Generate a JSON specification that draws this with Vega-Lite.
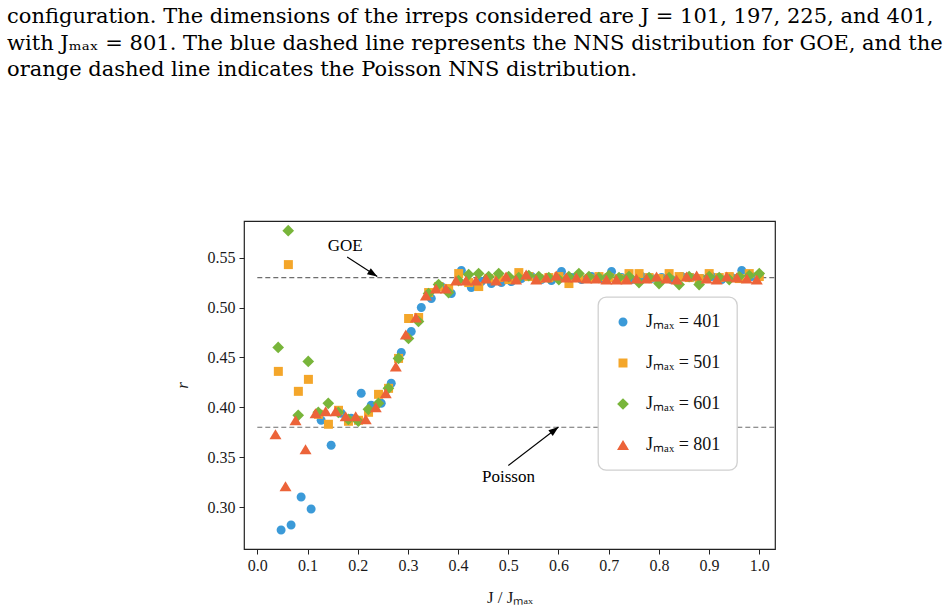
{
  "$schema": "https://vega.github.io/schema/vega-lite/v6.json",
  "width": 531,
  "height": 328,
  "autosize": "none",
  "padding": {"left": 244, "top": 221, "right": 177, "bottom": 64},
  "background": "white",
  "title": {
    "text": [
      "configuration.  The dimensions of the irreps considered are J = 101, 197, 225, and 401,",
      "with Jₘₐₓ = 801. The blue dashed line represents the NNS distribution for GOE, and the",
      "orange dashed line indicates the Poisson NNS distribution."
    ],
    "anchor": "start",
    "frame": "group",
    "orient": "top",
    "font": "DejaVu Serif",
    "fontSize": 21,
    "fontWeight": "normal",
    "color": "#000000",
    "lineHeight": 26.5,
    "dx": -237,
    "offset": 141
  },
  "datasets": {
    "points": [
      {"jmax": "401", "x": 0.0474, "r": 0.277},
      {"jmax": "401", "x": 0.0673, "r": 0.282},
      {"jmax": "401", "x": 0.0873, "r": 0.310},
      {"jmax": "401", "x": 0.1072, "r": 0.298},
      {"jmax": "401", "x": 0.1272, "r": 0.387},
      {"jmax": "401", "x": 0.1471, "r": 0.362},
      {"jmax": "401", "x": 0.1671, "r": 0.394},
      {"jmax": "401", "x": 0.1870, "r": 0.389},
      {"jmax": "401", "x": 0.2070, "r": 0.414},
      {"jmax": "401", "x": 0.2269, "r": 0.402},
      {"jmax": "401", "x": 0.2469, "r": 0.404},
      {"jmax": "401", "x": 0.2668, "r": 0.424},
      {"jmax": "401", "x": 0.2868, "r": 0.455},
      {"jmax": "401", "x": 0.3067, "r": 0.476},
      {"jmax": "401", "x": 0.3267, "r": 0.500},
      {"jmax": "401", "x": 0.3466, "r": 0.509},
      {"jmax": "401", "x": 0.3666, "r": 0.521},
      {"jmax": "401", "x": 0.3865, "r": 0.514},
      {"jmax": "401", "x": 0.4065, "r": 0.537},
      {"jmax": "401", "x": 0.4264, "r": 0.520},
      {"jmax": "401", "x": 0.4464, "r": 0.526},
      {"jmax": "401", "x": 0.4663, "r": 0.524},
      {"jmax": "401", "x": 0.4863, "r": 0.525},
      {"jmax": "401", "x": 0.5062, "r": 0.526},
      {"jmax": "401", "x": 0.5262, "r": 0.529},
      {"jmax": "401", "x": 0.5461, "r": 0.531},
      {"jmax": "401", "x": 0.5661, "r": 0.528},
      {"jmax": "401", "x": 0.5860, "r": 0.527},
      {"jmax": "401", "x": 0.6060, "r": 0.536},
      {"jmax": "401", "x": 0.6259, "r": 0.530},
      {"jmax": "401", "x": 0.6459, "r": 0.528},
      {"jmax": "401", "x": 0.6658, "r": 0.531},
      {"jmax": "401", "x": 0.6858, "r": 0.529},
      {"jmax": "401", "x": 0.7057, "r": 0.536},
      {"jmax": "401", "x": 0.7257, "r": 0.530},
      {"jmax": "401", "x": 0.7456, "r": 0.528},
      {"jmax": "401", "x": 0.7656, "r": 0.531},
      {"jmax": "401", "x": 0.7855, "r": 0.529},
      {"jmax": "401", "x": 0.8055, "r": 0.530},
      {"jmax": "401", "x": 0.8254, "r": 0.528},
      {"jmax": "401", "x": 0.8454, "r": 0.531},
      {"jmax": "401", "x": 0.8653, "r": 0.530},
      {"jmax": "401", "x": 0.8853, "r": 0.529},
      {"jmax": "401", "x": 0.9052, "r": 0.531},
      {"jmax": "401", "x": 0.9252, "r": 0.528},
      {"jmax": "401", "x": 0.9451, "r": 0.530},
      {"jmax": "401", "x": 0.9651, "r": 0.537},
      {"jmax": "401", "x": 0.9850, "r": 0.531},

      {"jmax": "501", "x": 0.0419, "r": 0.436},
      {"jmax": "501", "x": 0.0619, "r": 0.543},
      {"jmax": "501", "x": 0.0818, "r": 0.416},
      {"jmax": "501", "x": 0.1018, "r": 0.428},
      {"jmax": "501", "x": 0.1218, "r": 0.393},
      {"jmax": "501", "x": 0.1417, "r": 0.383},
      {"jmax": "501", "x": 0.1617, "r": 0.397},
      {"jmax": "501", "x": 0.1816, "r": 0.386},
      {"jmax": "501", "x": 0.2016, "r": 0.387},
      {"jmax": "501", "x": 0.2216, "r": 0.395},
      {"jmax": "501", "x": 0.2415, "r": 0.413},
      {"jmax": "501", "x": 0.2615, "r": 0.419},
      {"jmax": "501", "x": 0.2814, "r": 0.449},
      {"jmax": "501", "x": 0.3014, "r": 0.489},
      {"jmax": "501", "x": 0.3214, "r": 0.490},
      {"jmax": "501", "x": 0.3413, "r": 0.515},
      {"jmax": "501", "x": 0.3613, "r": 0.521},
      {"jmax": "501", "x": 0.3812, "r": 0.519},
      {"jmax": "501", "x": 0.4012, "r": 0.534},
      {"jmax": "501", "x": 0.4212, "r": 0.525},
      {"jmax": "501", "x": 0.4411, "r": 0.521},
      {"jmax": "501", "x": 0.4611, "r": 0.529},
      {"jmax": "501", "x": 0.4810, "r": 0.530},
      {"jmax": "501", "x": 0.5010, "r": 0.528},
      {"jmax": "501", "x": 0.5210, "r": 0.535},
      {"jmax": "501", "x": 0.5409, "r": 0.531},
      {"jmax": "501", "x": 0.5609, "r": 0.529},
      {"jmax": "501", "x": 0.5808, "r": 0.530},
      {"jmax": "501", "x": 0.6008, "r": 0.531},
      {"jmax": "501", "x": 0.6208, "r": 0.524},
      {"jmax": "501", "x": 0.6407, "r": 0.530},
      {"jmax": "501", "x": 0.6607, "r": 0.529},
      {"jmax": "501", "x": 0.6806, "r": 0.531},
      {"jmax": "501", "x": 0.7006, "r": 0.530},
      {"jmax": "501", "x": 0.7206, "r": 0.529},
      {"jmax": "501", "x": 0.7405, "r": 0.534},
      {"jmax": "501", "x": 0.7605, "r": 0.534},
      {"jmax": "501", "x": 0.7804, "r": 0.530},
      {"jmax": "501", "x": 0.8004, "r": 0.529},
      {"jmax": "501", "x": 0.8204, "r": 0.534},
      {"jmax": "501", "x": 0.8403, "r": 0.531},
      {"jmax": "501", "x": 0.8603, "r": 0.530},
      {"jmax": "501", "x": 0.8802, "r": 0.529},
      {"jmax": "501", "x": 0.9002, "r": 0.534},
      {"jmax": "501", "x": 0.9202, "r": 0.530},
      {"jmax": "501", "x": 0.9401, "r": 0.531},
      {"jmax": "501", "x": 0.9601, "r": 0.529},
      {"jmax": "501", "x": 0.9800, "r": 0.534},
      {"jmax": "501", "x": 1.0000, "r": 0.531},

      {"jmax": "601", "x": 0.0416, "r": 0.460},
      {"jmax": "601", "x": 0.0616, "r": 0.577},
      {"jmax": "601", "x": 0.0815, "r": 0.392},
      {"jmax": "601", "x": 0.1015, "r": 0.446},
      {"jmax": "601", "x": 0.1215, "r": 0.395},
      {"jmax": "601", "x": 0.1414, "r": 0.404},
      {"jmax": "601", "x": 0.1614, "r": 0.395},
      {"jmax": "601", "x": 0.1814, "r": 0.388},
      {"jmax": "601", "x": 0.2013, "r": 0.386},
      {"jmax": "601", "x": 0.2213, "r": 0.398},
      {"jmax": "601", "x": 0.2413, "r": 0.404},
      {"jmax": "601", "x": 0.2612, "r": 0.419},
      {"jmax": "601", "x": 0.2812, "r": 0.449},
      {"jmax": "601", "x": 0.3012, "r": 0.469},
      {"jmax": "601", "x": 0.3211, "r": 0.486},
      {"jmax": "601", "x": 0.3411, "r": 0.514},
      {"jmax": "601", "x": 0.3611, "r": 0.523},
      {"jmax": "601", "x": 0.3810, "r": 0.515},
      {"jmax": "601", "x": 0.4010, "r": 0.527},
      {"jmax": "601", "x": 0.4210, "r": 0.533},
      {"jmax": "601", "x": 0.4409, "r": 0.534},
      {"jmax": "601", "x": 0.4609, "r": 0.531},
      {"jmax": "601", "x": 0.4809, "r": 0.534},
      {"jmax": "601", "x": 0.5008, "r": 0.531},
      {"jmax": "601", "x": 0.5208, "r": 0.530},
      {"jmax": "601", "x": 0.5408, "r": 0.532},
      {"jmax": "601", "x": 0.5607, "r": 0.531},
      {"jmax": "601", "x": 0.5807, "r": 0.530},
      {"jmax": "601", "x": 0.6007, "r": 0.528},
      {"jmax": "601", "x": 0.6206, "r": 0.531},
      {"jmax": "601", "x": 0.6406, "r": 0.534},
      {"jmax": "601", "x": 0.6606, "r": 0.531},
      {"jmax": "601", "x": 0.6805, "r": 0.530},
      {"jmax": "601", "x": 0.7005, "r": 0.532},
      {"jmax": "601", "x": 0.7205, "r": 0.530},
      {"jmax": "601", "x": 0.7404, "r": 0.531},
      {"jmax": "601", "x": 0.7604, "r": 0.525},
      {"jmax": "601", "x": 0.7804, "r": 0.530},
      {"jmax": "601", "x": 0.8003, "r": 0.524},
      {"jmax": "601", "x": 0.8203, "r": 0.530},
      {"jmax": "601", "x": 0.8403, "r": 0.523},
      {"jmax": "601", "x": 0.8602, "r": 0.531},
      {"jmax": "601", "x": 0.8802, "r": 0.523},
      {"jmax": "601", "x": 0.9002, "r": 0.531},
      {"jmax": "601", "x": 0.9201, "r": 0.530},
      {"jmax": "601", "x": 0.9401, "r": 0.528},
      {"jmax": "601", "x": 0.9601, "r": 0.531},
      {"jmax": "601", "x": 0.9800, "r": 0.532},
      {"jmax": "601", "x": 1.0000, "r": 0.534},

      {"jmax": "801", "x": 0.0362, "r": 0.373},
      {"jmax": "801", "x": 0.0562, "r": 0.321},
      {"jmax": "801", "x": 0.0762, "r": 0.387},
      {"jmax": "801", "x": 0.0961, "r": 0.358},
      {"jmax": "801", "x": 0.1161, "r": 0.394},
      {"jmax": "801", "x": 0.1361, "r": 0.396},
      {"jmax": "801", "x": 0.1561, "r": 0.396},
      {"jmax": "801", "x": 0.1760, "r": 0.391},
      {"jmax": "801", "x": 0.1960, "r": 0.391},
      {"jmax": "801", "x": 0.2160, "r": 0.388},
      {"jmax": "801", "x": 0.2360, "r": 0.400},
      {"jmax": "801", "x": 0.2559, "r": 0.414},
      {"jmax": "801", "x": 0.2759, "r": 0.441},
      {"jmax": "801", "x": 0.2959, "r": 0.473},
      {"jmax": "801", "x": 0.3159, "r": 0.490},
      {"jmax": "801", "x": 0.3358, "r": 0.512},
      {"jmax": "801", "x": 0.3558, "r": 0.519},
      {"jmax": "801", "x": 0.3758, "r": 0.519},
      {"jmax": "801", "x": 0.3958, "r": 0.527},
      {"jmax": "801", "x": 0.4157, "r": 0.527},
      {"jmax": "801", "x": 0.4357, "r": 0.527},
      {"jmax": "801", "x": 0.4557, "r": 0.529},
      {"jmax": "801", "x": 0.4757, "r": 0.527},
      {"jmax": "801", "x": 0.4956, "r": 0.531},
      {"jmax": "801", "x": 0.5156, "r": 0.528},
      {"jmax": "801", "x": 0.5356, "r": 0.533},
      {"jmax": "801", "x": 0.5556, "r": 0.528},
      {"jmax": "801", "x": 0.5755, "r": 0.530},
      {"jmax": "801", "x": 0.5955, "r": 0.532},
      {"jmax": "801", "x": 0.6155, "r": 0.530},
      {"jmax": "801", "x": 0.6355, "r": 0.530},
      {"jmax": "801", "x": 0.6554, "r": 0.529},
      {"jmax": "801", "x": 0.6754, "r": 0.529},
      {"jmax": "801", "x": 0.6954, "r": 0.528},
      {"jmax": "801", "x": 0.7154, "r": 0.528},
      {"jmax": "801", "x": 0.7353, "r": 0.528},
      {"jmax": "801", "x": 0.7553, "r": 0.529},
      {"jmax": "801", "x": 0.7753, "r": 0.529},
      {"jmax": "801", "x": 0.7953, "r": 0.531},
      {"jmax": "801", "x": 0.8152, "r": 0.529},
      {"jmax": "801", "x": 0.8352, "r": 0.528},
      {"jmax": "801", "x": 0.8552, "r": 0.531},
      {"jmax": "801", "x": 0.8752, "r": 0.532},
      {"jmax": "801", "x": 0.8951, "r": 0.529},
      {"jmax": "801", "x": 0.9151, "r": 0.528},
      {"jmax": "801", "x": 0.9351, "r": 0.531},
      {"jmax": "801", "x": 0.9551, "r": 0.530},
      {"jmax": "801", "x": 0.9750, "r": 0.529},
      {"jmax": "801", "x": 0.9950, "r": 0.528}
    ],
    "refs": [
      {"ref": "GOE", "r": 0.530},
      {"ref": "Poisson", "r": 0.380}
    ],
    "notes": [
      {"label": "GOE", "tx": 0.175, "ty": 0.5613, "sx": 0.179, "sy": 0.5506, "ex": 0.239, "ey": 0.5310},
      {"label": "Poisson", "tx": 0.5004, "ty": 0.3304, "sx": 0.500, "sy": 0.3417, "ex": 0.600, "ey": 0.3802}
    ]
  },
  "layer": [
    {
      "data": {"name": "refs"},
      "mark": {"type": "rule", "color": "#6e6e6e", "strokeWidth": 1.2, "strokeDash": [5, 3]},
      "encoding": {
        "x": {"datum": 0, "type": "quantitative", "scale": {"domain": [-0.0265, 1.0313], "nice": false, "zero": false},
              "axis": {"title": "J / Jₘₐₓ", "values": [0, 0.1, 0.2, 0.3, 0.4, 0.5, 0.6, 0.7, 0.8, 0.9, 1.0], "format": ".1f"}},
        "x2": {"datum": 1.03},
        "y": {"field": "r", "type": "quantitative", "scale": {"domain": [0.258, 0.5867], "nice": false, "zero": false},
              "axis": {"title": "r", "values": [0.30, 0.35, 0.40, 0.45, 0.50, 0.55], "format": ".2f", "titleFontStyle": "italic"}}
      }
    },
    {
      "data": {"name": "points"},
      "mark": {"type": "point", "filled": true, "opacity": 1, "strokeWidth": 0, "size": 100},
      "encoding": {
        "x": {"field": "x", "type": "quantitative", "scale": {"domain": [-0.0265, 1.0313], "nice": false, "zero": false},
              "axis": {"title": "J / Jₘₐₓ", "values": [0, 0.1, 0.2, 0.3, 0.4, 0.5, 0.6, 0.7, 0.8, 0.9, 1.0], "format": ".1f"}},
        "y": {"field": "r", "type": "quantitative", "scale": {"domain": [0.258, 0.5867], "nice": false, "zero": false},
              "axis": {"title": "r", "values": [0.30, 0.35, 0.40, 0.45, 0.50, 0.55], "format": ".2f", "titleFontStyle": "italic"}},
        "color": {
          "field": "jmax", "type": "nominal",
          "scale": {"domain": ["401", "501", "601", "801"], "range": ["#3B9AD8", "#F4A62A", "#78B53A", "#EC6339"]},
          "legend": {"title": null, "orient": "none", "legendX": 354, "legendY": 76, "labelExpr": "'Jₘₐₓ = ' + datum.label"}
        },
        "shape": {
          "field": "jmax", "type": "nominal",
          "scale": {"domain": ["401", "501", "601", "801"], "range": [
            "M0.9,0A0.9,0.9 0 1,1 -0.9,0A0.9,0.9 0 1,1 0.9,0Z",
            "M-0.9,-0.9H0.9V0.9H-0.9Z",
            "M0,-1.17L1.17,0L0,1.17L-1.17,0Z",
            "M0,-1L1.2,1L-1.2,1Z"
          ]}
        }
      }
    },
    {
      "data": {"name": "notes"},
      "mark": {"type": "rule", "color": "#000000", "strokeWidth": 1.1},
      "encoding": {
        "x": {"field": "sx", "type": "quantitative", "scale": {"domain": [-0.0265, 1.0313], "nice": false, "zero": false},
              "axis": {"title": "J / Jₘₐₓ", "values": [0, 0.1, 0.2, 0.3, 0.4, 0.5, 0.6, 0.7, 0.8, 0.9, 1.0], "format": ".1f"}},
        "y": {"field": "sy", "type": "quantitative", "scale": {"domain": [0.258, 0.5867], "nice": false, "zero": false},
              "axis": {"title": "r", "values": [0.30, 0.35, 0.40, 0.45, 0.50, 0.55], "format": ".2f", "titleFontStyle": "italic"}},
        "x2": {"field": "ex"},
        "y2": {"field": "ey"}
      }
    },
    {
      "data": {"name": "notes"},
      "mark": {"type": "point", "shape": "M0,0L0.36,1L-0.36,1Z", "filled": true, "opacity": 1, "color": "#000000", "strokeWidth": 0, "size": 400},
      "encoding": {
        "x": {"field": "ex", "type": "quantitative", "scale": {"domain": [-0.0265, 1.0313], "nice": false, "zero": false},
              "axis": {"title": "J / Jₘₐₓ", "values": [0, 0.1, 0.2, 0.3, 0.4, 0.5, 0.6, 0.7, 0.8, 0.9, 1.0], "format": ".1f"}},
        "y": {"field": "ey", "type": "quantitative", "scale": {"domain": [0.258, 0.5867], "nice": false, "zero": false},
              "axis": {"title": "r", "values": [0.30, 0.35, 0.40, 0.45, 0.50, 0.55], "format": ".2f", "titleFontStyle": "italic"}},
        "angle": {"condition": {"test": "datum.label === 'GOE'", "value": 122.75}, "value": 52.5}
      }
    },
    {
      "data": {"name": "notes"},
      "mark": {"type": "text", "font": "Liberation Serif", "fontSize": 17, "color": "#000000", "align": "center", "baseline": "middle"},
      "encoding": {
        "x": {"field": "tx", "type": "quantitative", "scale": {"domain": [-0.0265, 1.0313], "nice": false, "zero": false},
              "axis": {"title": "J / Jₘₐₓ", "values": [0, 0.1, 0.2, 0.3, 0.4, 0.5, 0.6, 0.7, 0.8, 0.9, 1.0], "format": ".1f"}},
        "y": {"field": "ty", "type": "quantitative", "scale": {"domain": [0.258, 0.5867], "nice": false, "zero": false},
              "axis": {"title": "r", "values": [0.30, 0.35, 0.40, 0.45, 0.50, 0.55], "format": ".2f", "titleFontStyle": "italic"}},
        "text": {"field": "label"}
      }
    }
  ],
  "config": {
    "font": "Liberation Serif",
    "view": {"stroke": "#222222", "strokeWidth": 1.2},
    "axis": {
      "domain": false,
      "grid": false,
      "ticks": true,
      "tickSize": 5,
      "tickColor": "#222222",
      "tickWidth": 1,
      "labelFont": "Liberation Serif",
      "labelFontSize": 16,
      "labelColor": "#1a1a1a",
      "titleFont": "Liberation Serif",
      "titleFontSize": 17,
      "titleFontWeight": "normal",
      "titleColor": "#1a1a1a"
    },
    "axisX": {"labelPadding": 3, "titlePadding": 16},
    "axisY": {"labelPadding": 4, "titlePadding": 16},
    "legend": {
      "padding": 16,
      "cornerRadius": 8,
      "strokeColor": "#d0d0d0",
      "strokeWidth": 1.3,
      "fillColor": "#ffffff",
      "labelFont": "Liberation Serif",
      "labelFontSize": 18,
      "labelColor": "#111111",
      "labelOffset": 14,
      "rowPadding": 23,
      "symbolSize": 100,
      "symbolStrokeWidth": 0,
      "symbolOpacity": 1
    }
  }
}
